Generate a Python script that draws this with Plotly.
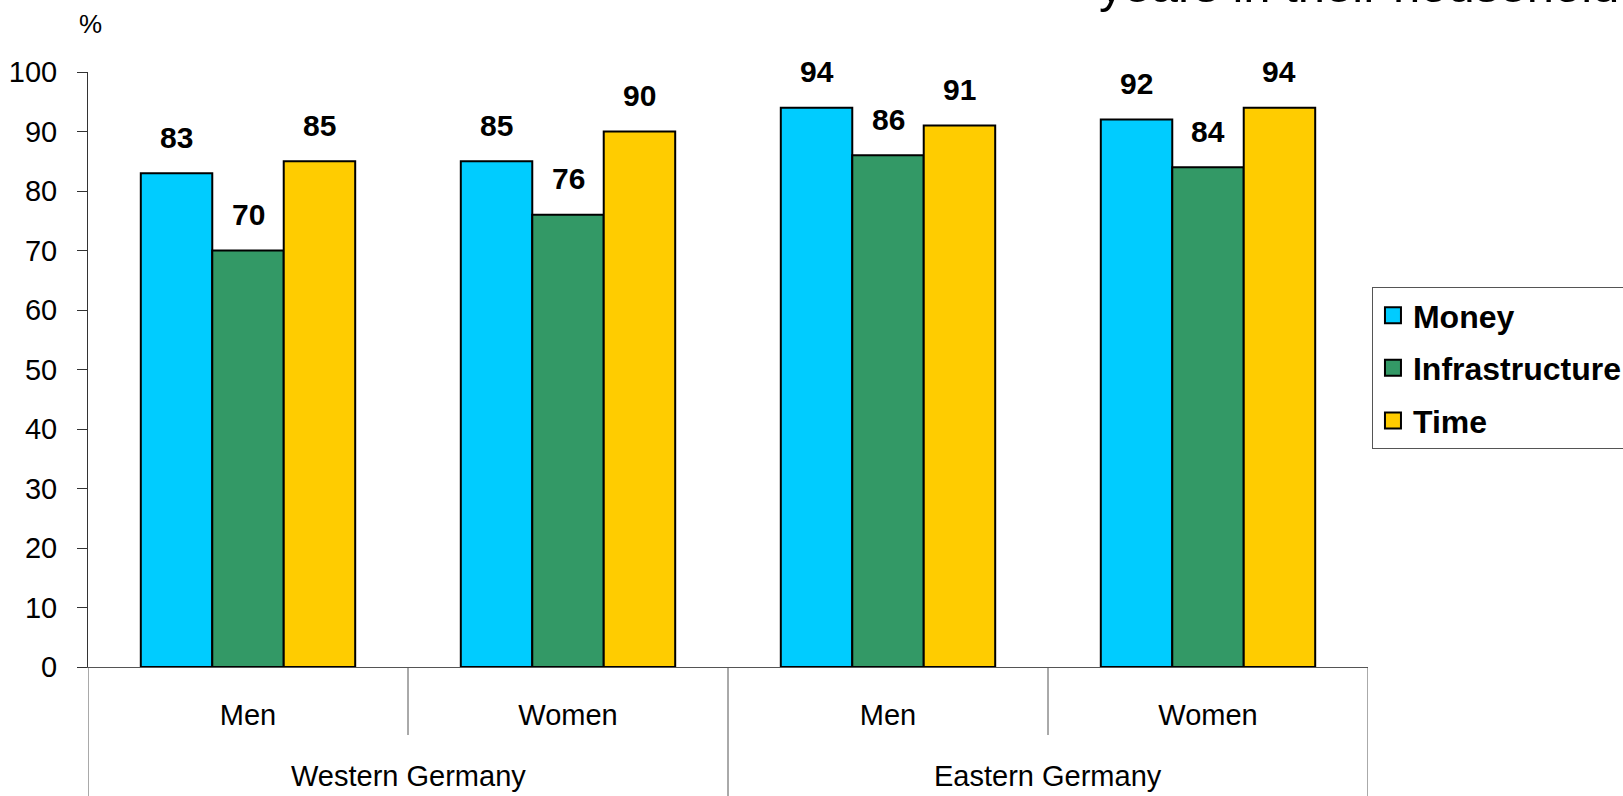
import plotly.graph_objects as go

groups = ["Western Germany", "Western Germany", "Eastern Germany", "Eastern Germany"]
subgroups = ["Men", "Women", "Men", "Women"]
series_names = ["Money", "Infrastructure", "Time"]
money = [83, 85, 94, 92]
infrastructure = [70, 76, 86, 84]
time_vals = [85, 90, 91, 94]
y_ticks = [0, 10, 20, 30, 40, 50, 60, 70, 80, 90, 100]
title_text = "years in their household"

colors = ["#00CCFF", "#339966", "#FFCC00"]
FONT = "Liberation Sans, Arial, sans-serif"

cats = [f"{g} | {s}" for g, s in zip(groups, subgroups)]
series = [money, infrastructure, time_vals]

BARGAP = 0.33
fig = go.Figure()
for name, vals, col in zip(series_names, series, colors):
    fig.add_trace(go.Bar(
        x=cats, y=vals, name=name, marker=dict(color=col, line=dict(color="black", width=2)),
        showlegend=False, cliponaxis=False,
    ))
# legend entries (bigger squares)
for k, (name, col) in enumerate(zip(series_names, colors)):
    fig.add_trace(go.Scatter(
        x=[None], y=[None], mode="markers", name=name, legendgroup=f"g{k}",
        marker=dict(symbol="square", size=16, color=col, line=dict(color="black", width=2)),
    ))

annotations = []
w = (1 - BARGAP) / len(series)
for j, vals in enumerate(series):
    for i, v in enumerate(vals):
        annotations.append(dict(
            x=i + (j - (len(series) - 1) / 2) * w, y=v, xref="x", yref="y",
            text=f"<b>{v}</b>", showarrow=False, yshift=36, yanchor="middle",
            font=dict(family=FONT, size=30, color="black"),
        ))
# group labels
uniq_groups = list(dict.fromkeys(groups))
for g in uniq_groups:
    idx = [i for i, gg in enumerate(groups) if gg == g]
    annotations.append(dict(
        x=sum(idx) / len(idx), y=-0.1832, xref="x", yref="paper", text=g, showarrow=False,
        yanchor="middle", font=dict(family=FONT, size=29, color="black"),
    ))
annotations.append(dict(x=0.0023, y=1.0807, xref="paper", yref="paper", text="%", showarrow=False,
                        xanchor="center", yanchor="middle", font=dict(family=FONT, size=26, color="black")))
annotations.append(dict(x=0.788, y=1.0975, xref="paper", yref="paper", text=title_text, showarrow=False,
                        xanchor="left", yanchor="bottom", font=dict(family=FONT, size=49, color="black")))

shapes = []
n = len(cats)
# separators between subgroups (short) and between groups (long)
for b in range(n + 1):
    xb = b - 0.5
    is_group_edge = b == 0 or b == n or groups[b] != groups[b - 1]
    shapes.append(dict(type="line", xref="x", yref="paper", x0=xb, x1=xb, y0=0,
                       y1=-0.3 if is_group_edge else -0.1143,
                       line=dict(color="#555555", width=1)))

fig.update_layout(
    width=1623, height=796,
    margin=dict(l=88, r=255, t=72, b=129, autoexpand=False),
    plot_bgcolor="white", paper_bgcolor="white",
    barmode="group", bargap=BARGAP, bargroupgap=0,
    font=dict(family=FONT, size=29, color="black"),
    annotations=annotations, shapes=shapes,
    legend=dict(
        x=1.0031, y=0.6387, xanchor="left", yanchor="top",
        bordercolor="#555555", borderwidth=1, bgcolor="white",
        font=dict(family=FONT, size=32, color="black", weight="bold"),
        traceorder="grouped", tracegroupgap=8,
    ),
    xaxis=dict(
        type="category", categoryorder="array", categoryarray=cats,
        tickvals=cats, ticktext=subgroups, ticks="", ticklabelstandoff=22,
        showline=True, linecolor="#555555", linewidth=1, showgrid=False, zeroline=False,
        range=[-0.5, n - 0.5], tickfont=dict(family=FONT, size=29),
    ),
    yaxis=dict(
        range=[0, 100], tickvals=y_ticks, ticks="outside", ticklen=10, tickcolor="#333333",
        showline=True, linecolor="#333333", linewidth=1, showgrid=False, zeroline=False,
        tickfont=dict(family=FONT, size=29), ticklabelstandoff=14,
    ),
    showlegend=True,
)

fig.write_html("out.html", config={"displayModeBar": False},
               post_script="document.body.style.margin='0';")
